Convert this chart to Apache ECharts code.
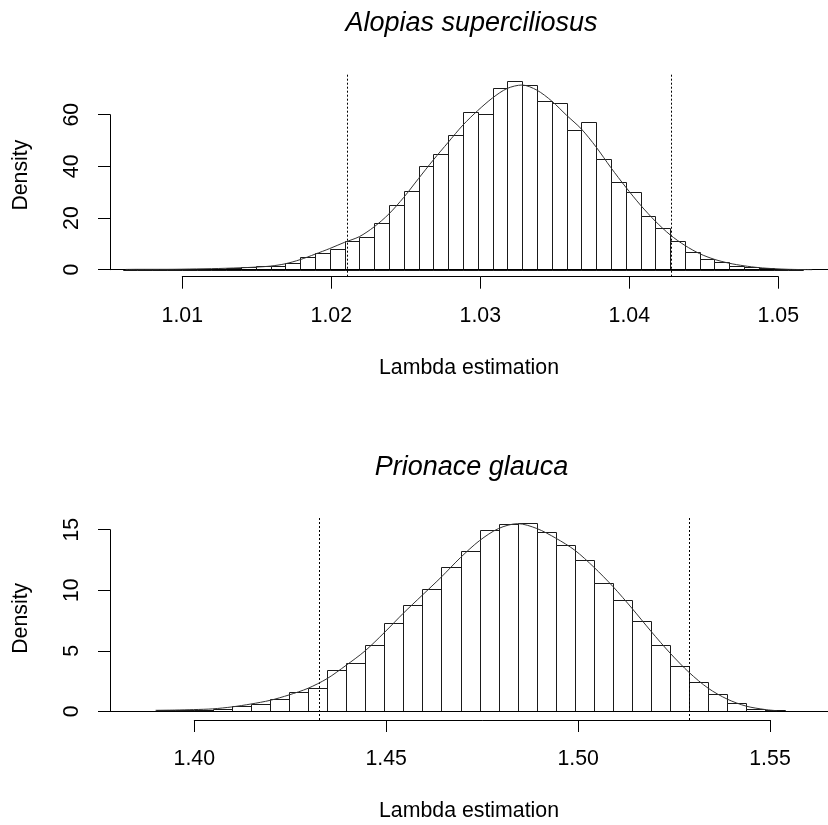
<!DOCTYPE html>
<html>
<head>
<meta charset="utf-8">
<script src="https://cdn.jsdelivr.net/npm/echarts@6/dist/echarts.min.js"></script>
<style>
  html, body { margin: 0; padding: 0; background: #fff; }
  #chart { width: 828px; height: 825px; }
</style>
</head>
<body>
<div id="chart"></div>
<script>
  // --- Alopias superciliosus (upper panel) ---
  const topBreaks = [1.006, 1.007, 1.008, 1.009, 1.010, 1.011, 1.012, 1.013, 1.014, 1.015,
    1.016, 1.017, 1.018, 1.019, 1.020, 1.021, 1.022, 1.023, 1.024, 1.025,
    1.026, 1.027, 1.028, 1.029, 1.030, 1.031, 1.032, 1.033, 1.034, 1.035,
    1.036, 1.037, 1.038, 1.039, 1.040, 1.041, 1.042, 1.043, 1.044, 1.045,
    1.046, 1.047, 1.048, 1.049, 1.050, 1.051, 1.052];
  const topDens = [0.3, 0.2, 0, 0, 0.3, 0.4, 0.4, 0.5, 1.0, 1.6,
    1.6, 2.5, 4.9, 6.3, 8.0, 11.1, 12.7, 17.9, 25.1, 30.6,
    40.0, 44.8, 52.2, 61.1, 60.1, 70.4, 73.1, 71.7, 65.2, 64.7,
    53.9, 57.1, 42.8, 33.8, 30.2, 20.6, 16.3, 11.1, 7.0, 4.1,
    2.8, 1.6, 1.0, 0.5, 0.3, 0.1];
  // kernel density curve
  const topCurveX = [1.0062, 1.007, 1.008, 1.009, 1.010, 1.011, 1.012, 1.013, 1.014, 1.015,
    1.016, 1.017, 1.018, 1.019, 1.020, 1.021, 1.022, 1.023, 1.024, 1.025,
    1.026, 1.027, 1.028, 1.029, 1.030, 1.031, 1.032, 1.033, 1.034, 1.035,
    1.036, 1.037, 1.038, 1.039, 1.040, 1.041, 1.042, 1.043, 1.044, 1.045,
    1.046, 1.047, 1.048, 1.049, 1.050, 1.051, 1.0526];
  const topCurveY = [0.1, 0.15, 0.15, 0.15, 0.2, 0.3, 0.4, 0.55, 0.75, 1.0,
    1.4, 2.3, 3.9, 6.0, 8.2, 10.6, 12.8, 16.6, 21.6, 28.0,
    35.3, 42.5, 49.3, 56.0, 61.6, 66.5, 70.2, 71.5, 69.5, 65.3,
    59.8, 54.5, 47.5, 39.5, 32.0, 25.0, 18.8, 13.5, 9.4, 6.2,
    4.0, 2.5, 1.5, 0.8, 0.4, 0.15, 0];
  const topCI = [1.02116, 1.04308];
  const topXTicks = [1.01, 1.02, 1.03, 1.04, 1.05];
  const topYTicks = [0, 20, 40, 60];

  // --- Prionace glauca (lower panel) ---
  const botBreaks = [1.390, 1.395, 1.400, 1.405, 1.410, 1.415, 1.420, 1.425, 1.430, 1.435,
    1.440, 1.445, 1.450, 1.455, 1.460, 1.465, 1.470, 1.475, 1.480, 1.485,
    1.490, 1.495, 1.500, 1.505, 1.510, 1.515, 1.520, 1.525, 1.530, 1.535,
    1.540, 1.545, 1.550, 1.555];
  const botDens = [0.08, 0.1, 0.12, 0.22, 0.47, 0.63, 1.02, 1.6, 1.9, 3.39,
    4.0, 5.45, 7.33, 8.79, 10.06, 11.93, 13.28, 14.96, 15.43, 15.54,
    14.85, 13.72, 12.5, 10.6, 9.17, 7.47, 5.48, 3.77, 2.42, 1.43,
    0.66, 0.19, 0.08];
  const botCurveX = [1.390, 1.395, 1.400, 1.405, 1.410, 1.415, 1.420, 1.425, 1.430, 1.435,
    1.440, 1.445, 1.450, 1.455, 1.460, 1.465, 1.470, 1.475, 1.480, 1.485,
    1.490, 1.495, 1.500, 1.505, 1.510, 1.515, 1.520, 1.525, 1.530, 1.535,
    1.540, 1.545, 1.550, 1.553];
  const botCurveY = [0.08, 0.1, 0.14, 0.2, 0.36, 0.6, 0.9, 1.35, 1.9, 2.7,
    3.8, 5.0, 6.5, 8.1, 9.6, 11.1, 12.7, 14.1, 15.1, 15.5,
    15.1, 14.3, 13.3, 11.9, 10.3, 8.5, 6.6, 4.8, 3.2, 1.9,
    1.0, 0.42, 0.14, 0.05];
  const botCI = [1.4329, 1.5299];
  const botXTicks = [1.40, 1.45, 1.50, 1.55];
  const botYTicks = [0, 5, 10, 15];

  const FONT = '"Liberation Sans", Arial, sans-serif';
  const FS = 21.3;

  // 히스토그램 막대
  const histItem = (params, api) => {
    const p0 = api.coord([api.value(0), api.value(2)]);
    const p1 = api.coord([api.value(1), 0]);
    const l = Math.round(p0[0]) + 0.5, r = Math.round(p1[0]) + 0.5;
    const t = Math.round(p0[1]) + 0.5, b = Math.round(p1[1]) + 0.5;
    return {
      type: 'rect',
      shape: { x: l, y: t, width: r - l, height: b - t },
      style: { fill: '#fff', stroke: '#1a1a1a', lineWidth: 1 }
    };
  };

  const toBins = (breaks, dens) => dens.map((d, i) => [breaks[i], breaks[i + 1], d]);
  const toPts = (xs, ys) => xs.map((x, i) => [x, ys[i]]);

  // 신뢰구간 점선 + 기준선
  const ciLines = ci => ({
    silent: true,
    symbol: 'none',
    precision: 6,
    animation: false,
    label: { show: false },
    lineStyle: { color: '#000', width: 1, type: 'solid' },
    data: [
      { xAxis: ci[0], lineStyle: { type: [2, 2] } },
      { xAxis: ci[1], lineStyle: { type: [2, 2] } },
      { yAxis: 0 }
    ]
  });

  const hiddenAxis = (gi) => ({ gridIndex: gi, type: 'value', show: false, min: 0, max: 1 });

  // 플롯 영역(숨은 축)
  const mainX = (gi, min, max) => ({
    gridIndex: gi, type: 'value', min: min, max: max,
    axisLine: { show: false }, axisTick: { show: false },
    axisLabel: { show: false }, splitLine: { show: false },
    name: 'Lambda estimation', nameLocation: 'middle', nameGap: 81,
    nameTextStyle: { color: '#000', fontSize: FS, fontFamily: FONT }
  });
  const mainY = (gi, min, max) => ({
    gridIndex: gi, type: 'value', min: min, max: max,
    axisLine: { show: false }, axisTick: { show: false },
    axisLabel: { show: false }, splitLine: { show: false },
    name: 'Density', nameLocation: 'middle', nameGap: 78,
    nameTextStyle: { color: '#000', fontSize: FS, fontFamily: FONT }
  });

  // R 스타일 축 (눈금 범위만)
  const tickX = (gi, ticks) => ({
    gridIndex: gi, type: 'value', position: 'bottom',
    min: ticks[0], max: ticks[ticks.length - 1],
    interval: Math.round((ticks[1] - ticks[0]) * 1e6) / 1e6,
    axisLine: { show: true, lineStyle: { color: '#000', width: 1 } },
    axisTick: { show: true, length: 12, inside: false, lineStyle: { color: '#000', width: 1 } },
    axisLabel: { color: '#000', fontSize: FS, fontFamily: FONT, margin: 29,
      formatter: v => v.toFixed(2) },
    splitLine: { show: false }
  });
  const tickY = (gi, ticks) => ({
    gridIndex: gi, type: 'value', position: 'left',
    min: ticks[0], max: ticks[ticks.length - 1],
    interval: ticks[1] - ticks[0],
    axisLine: { show: true, lineStyle: { color: '#000', width: 1 } },
    axisTick: { show: true, length: 12, inside: false, lineStyle: { color: '#000', width: 1 } },
    axisLabel: { color: '#000', fontSize: FS, fontFamily: FONT, margin: 27, rotate: 90 },
    splitLine: { show: false }
  });

  const chart = echarts.init(document.getElementById('chart'), null, { renderer: 'canvas' });

  const titleStyle = { color: '#000', fontSize: 27, fontStyle: 'italic', fontWeight: 'normal', fontFamily: FONT };

  const option = {
    animation: false,
    backgroundColor: '#fff',
    title: [
      { text: 'Alopias superciliosus', left: 471.5, top: 10, textAlign: 'center', padding: 0, textStyle: titleStyle },
      { text: 'Prionace glauca', left: 471.5, top: 453.5, textAlign: 'center', padding: 0, textStyle: titleStyle }
    ],
    grid: [
      { left: 110, top: 73.5, width: 723, height: 203.2 },     // 0 top plot
      { left: 182.3, top: 200, width: 596, height: 76.7 },     // 1 top x axis
      { left: 110, top: 114.7, width: 10, height: 155 },       // 2 top y axis
      { left: 110, top: 516.5, width: 723, height: 203.5 },    // 3 bottom plot
      { left: 194.3, top: 640, width: 575.7, height: 80 },     // 4 bottom x axis
      { left: 110, top: 529.7, width: 10, height: 181.6 }      // 5 bottom y axis
    ],
    xAxis: [
      mainX(0, 1.005148, 1.053671),
      tickX(1, topXTicks),
      hiddenAxis(2),
      mainX(3, 1.37804, 1.56641),
      tickX(4, botXTicks),
      hiddenAxis(5)
    ],
    yAxis: [
      mainY(0, -2.71, 75.96),
      hiddenAxis(1),
      tickY(2, topYTicks),
      mainY(3, -0.72, 16.09),
      hiddenAxis(4),
      tickY(5, botYTicks)
    ],
    series: [
      {
        type: 'custom', xAxisIndex: 0, yAxisIndex: 0,
        renderItem: histItem, encode: { x: [0, 1], y: 2 },
        data: toBins(topBreaks, topDens),
        markLine: ciLines(topCI)
      },
      {
        type: 'line', xAxisIndex: 0, yAxisIndex: 0,
        data: toPts(topCurveX, topCurveY),
        showSymbol: false, smooth: 0.3,
        lineStyle: { color: '#333', width: 1 }, z: 5
      },
      {
        type: 'custom', xAxisIndex: 3, yAxisIndex: 3,
        renderItem: histItem, encode: { x: [0, 1], y: 2 },
        data: toBins(botBreaks, botDens),
        markLine: ciLines(botCI)
      },
      {
        type: 'line', xAxisIndex: 3, yAxisIndex: 3,
        data: toPts(botCurveX, botCurveY),
        showSymbol: false, smooth: 0.3,
        lineStyle: { color: '#333', width: 1 }, z: 5
      }
    ]
  };

  option && chart.setOption(option);
</script>
</body>
</html>
